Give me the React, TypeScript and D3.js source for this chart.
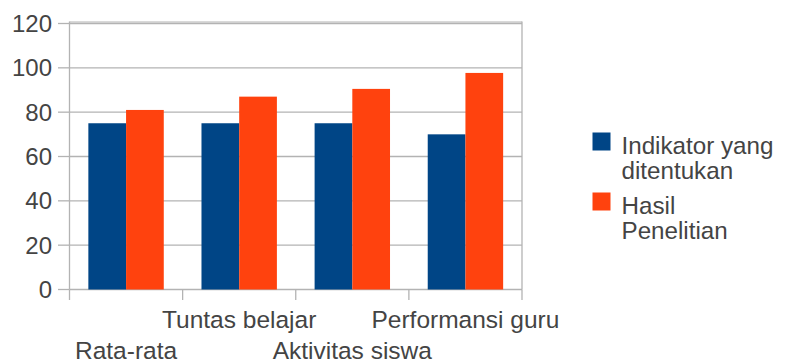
import React from "react";
import * as d3 from "d3";

const categories = ["Rata-rata", "Tuntas belajar", "Aktivitas siswa", "Performansi guru"];
const seriesNames = ["Indikator yang ditentukan", "Hasil Penelitian"];
const indikator = [75, 75, 75, 70];
const hasil = [81, 87, 90.5, 97.7];
const yTicks = [0, 20, 40, 60, 80, 100, 120];
const legendLines = [["Indikator yang", "ditentukan"], ["Hasil", "Penelitian"]];
const colors = ["#004586", "#ff420e"];

const W = 805;
const H = 363;
const plot = { left: 69.5, right: 522, top: 23.5, bottom: 289.5 };
const textColor = "#444444";
const gridColor = "#b3b3b3";
const font = "'Liberation Sans', Arial, sans-serif";

export default function App() {
  const x = d3.scaleBand<string>().domain(categories).range([plot.left, plot.right]).paddingInner(0).paddingOuter(0);
  const xs = d3.scaleBand<string>().domain(seriesNames).range([0, x.bandwidth()]).paddingInner(0).paddingOuter(0.5);
  const y = d3.scaleLinear().domain([0, 120]).range([plot.bottom, plot.top]);
  const data = [indikator, hasil];
  const boundaries = [...categories.map((c) => x(c) as number), plot.right];

  return (
    <svg width={W} height={H} style={{ position: "absolute", left: 0, top: 0, background: "#fff" }} fontFamily={font}>
      {/* horizontal grid + y ticks */}
      {yTicks.map((t) => (
        <g key={t}>
          <line x1={plot.left} x2={plot.right} y1={y(t)} y2={y(t)} stroke={gridColor} strokeWidth={1.3} />
          <line x1={58} x2={plot.left} y1={y(t)} y2={y(t)} stroke={gridColor} strokeWidth={1.3} />
          <text x={52} y={y(t) + 8.5} textAnchor="end" fontSize={24} fill={textColor}>{t}</text>
        </g>
      ))}
      <line x1={plot.left} x2={plot.right} y1={plot.top - 1.5} y2={plot.top - 1.5} stroke={gridColor} strokeWidth={1} />
      {/* frame */}
      <line x1={plot.left} x2={plot.left} y1={plot.top - 2} y2={plot.bottom} stroke={gridColor} strokeWidth={1.3} />
      <line x1={plot.right} x2={plot.right} y1={plot.top - 2} y2={plot.bottom} stroke={gridColor} strokeWidth={1.3} />
      {/* x category ticks */}
      {boundaries.map((b, i) => (
        <line key={i} x1={b} x2={b} y1={plot.bottom} y2={plot.bottom + 10.5} stroke={gridColor} strokeWidth={1.3} />
      ))}
      {/* bars */}
      {categories.map((c, ci) => (
        <g key={c}>
          {seriesNames.map((s, si) => {
            const v = data[si][ci];
            const bx = (x(c) as number) + (xs(s) as number);
            return <rect key={s} x={bx} y={y(v)} width={xs.bandwidth()} height={y(0) - y(v)} fill={colors[si]} />;
          })}
        </g>
      ))}
      {/* x labels, staggered */}
      {categories.map((c, ci) => (
        <text key={c} x={(x(c) as number) + x.bandwidth() / 2} y={ci % 2 === 0 ? 359 : 327.5} textAnchor="middle" fontSize={24.5} fill={textColor}>
          {c}
        </text>
      ))}
      {/* legend */}
      {seriesNames.map((s, si) => {
        const top = 132.5 + si * 60;
        return (
          <g key={s}>
            <rect x={592.5} y={top} width={18} height={18} fill={colors[si]} />
            {legendLines[si].map((line, li) => (
              <text key={li} x={621.5} y={top + 21 + li * 25} fontSize={24.2} fill={textColor}>{line}</text>
            ))}
          </g>
        );
      })}
    </svg>
  );
}
